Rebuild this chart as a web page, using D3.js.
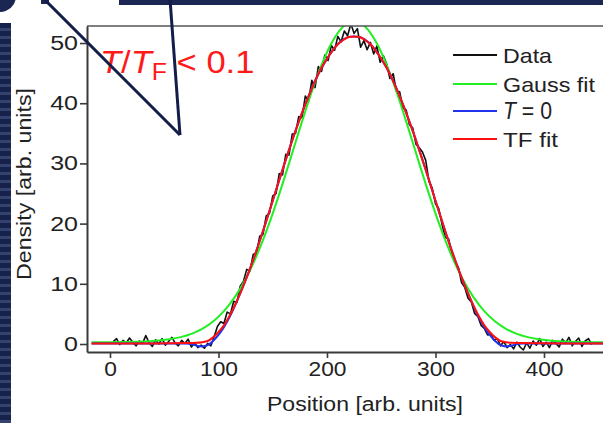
<!DOCTYPE html>
<html>
<head>
<meta charset="utf-8">
<script src="https://cdn.jsdelivr.net/npm/d3@7/dist/d3.min.js"></script>
<style>
  html, body { margin: 0; padding: 0; background: #fff; }
  svg { display: block; }
  text { font-family: "Liberation Sans", Arial, sans-serif; }
</style>
</head>
<body>
<svg id="chart" width="603" height="423"></svg>
<script>
// ---- data -------------------------------------------------------------
// measured density profile, sampled every 3 position units starting at 3
const dataStart = 3, dataStep = 3;
const densityData = [
  0.4, 0.9, -0.1, 0.6, 0.2, 1.0, 0.3, -0.3, 0.5, 0.1,
  1.4, 0.2, -0.4, 0.7, 0.0, 0.9, -0.2, 0.4, 1.1, 0.2,
  -0.3, 0.6, 0.1, 0.8, -0.5, 0.2, -0.6, -0.2, -0.7, 0.1,
  -0.3, 1.2, 2.9, 3.7, 3.4, 5.3, 5.0, 7.1, 6.9, 9.6,
  10.4, 12.4, 12.1, 14.9, 15.0, 17.9, 18.2, 21.3, 21.7, 24.6,
  25.0, 28.3, 28.1, 31.5, 31.4, 34.9, 35.0, 37.8, 37.6, 41.2,
  40.3, 43.8, 42.6, 46.1, 45.3, 48.0, 47.1, 49.6, 48.8, 51.1,
  50.2, 52.0, 51.2, 53.2, 51.6, 52.4, 49.3, 50.4, 48.9, 50.1,
  48.2, 49.5, 46.8, 47.9, 46.5, 44.1, 44.9, 42.0, 41.9, 39.2,
  38.9, 36.4, 35.9, 33.2, 32.6, 31.9, 30.5, 27.0, 25.9, 23.3,
  22.5, 19.9, 17.7, 17.5, 15.2, 13.4, 12.8, 10.2, 9.4, 7.6,
  7.0, 5.1, 4.6, 3.1, 2.6, 1.5, 1.6, 0.6, 0.9, -0.3,
  0.4, -0.6, -0.1, -0.8, 0.3, -0.5, -1.0, 0.2, -0.7, 0.5,
  -0.2, 0.9, -0.4, 0.3, -0.6, 0.6, 0.1, -0.5, 0.8, 0.2,
  1.1, -0.3, 0.4, 1.0, -0.4, 0.5, 0.9, -0.1
];

// Gaussian fit
const gaussX = [-17, 0, 25, 45, 55, 65, 75, 85, 95, 105, 115, 125, 135, 145, 155, 165, 175, 185, 195, 205, 215, 225,
                235, 245, 255, 265, 275, 285, 295, 305, 315, 325, 335, 345, 355, 365, 375, 385, 395, 405, 425, 455];
const gaussY = [0.3, 0.3, 0.38, 0.58, 0.79, 1.14, 1.68, 2.51, 3.73, 5.45, 7.78, 10.81, 14.61, 19.16, 24.36, 30.01, 35.82, 41.41, 46.36, 50.25, 52.74, 53.6,
                52.74, 50.25, 46.36, 41.41, 35.82, 30.01, 24.36, 19.16, 14.61, 10.81, 7.78, 5.45, 3.73, 2.51, 1.68, 1.14, 0.79, 0.58, 0.38, 0.3];

// Thomas-Fermi fit
const tfX = [-17, 0, 40, 70, 80, 85, 90, 95, 100, 105, 110, 115, 120, 125, 130, 135, 140, 145, 150, 155, 160, 165, 170, 175,
             180, 185, 190, 195, 200, 205, 210, 215, 220, 225, 230, 235, 240, 245, 250, 255, 260, 265, 270, 275, 280, 285,
             290, 295, 300, 305, 310, 315, 320, 325, 330, 335, 340, 345, 350, 355, 360, 365, 370, 380, 420, 455];
const tfY = [0.1, 0.1, 0.1, 0.15, 0.2, 0.3, 0.5, 1.1, 2.0, 3.1, 4.6, 6.4, 8.4, 10.6, 13.0, 15.5, 18.2, 21.0, 23.8, 26.7, 29.5, 32.2, 34.9, 37.4,
             39.8, 42.0, 44.1, 45.9, 47.4, 48.7, 49.8, 50.5, 51.0, 51.1, 51.0, 50.5, 49.8, 48.7, 47.4, 45.9, 44.1, 42.0, 39.8, 37.4, 34.9, 32.2,
             29.5, 26.7, 23.8, 21.0, 18.2, 15.5, 13.0, 10.6, 8.4, 6.4, 4.6, 3.1, 2.0, 1.1, 0.5, 0.3, 0.2, 0.15, 0.1, 0.1];

// zero-temperature profile
const t0X = [-17, 0, 40, 70, 75, 80, 85, 90, 95, 100, 105, 110, 115, 120, 125, 130, 140, 150, 160, 170, 180, 190, 200, 210, 220, 225,
             230, 240, 250, 260, 270, 280, 290, 300, 310, 320, 325, 330, 335, 340, 345, 350, 355, 360, 365, 370, 375, 380, 420, 455];
const t0Y = [0.1, 0.1, 0.1, 0.1, 0.0, -0.3, -0.4, -0.2, 0.5, 1.5, 2.8, 4.4, 6.3, 8.4, 10.6, 13.0, 18.2, 23.8, 29.5, 34.9, 39.8, 44.1, 47.4, 49.8, 51.0, 51.1,
             51.0, 49.8, 47.4, 44.1, 39.8, 34.9, 29.5, 23.8, 18.2, 13.0, 10.6, 8.4, 6.3, 4.4, 2.8, 1.5, 0.5, -0.2, -0.4, -0.3, 0.0, 0.1, 0.1, 0.1];

const xTicks = [0, 100, 200, 300, 400];
const yTicks = [0, 10, 20, 30, 40, 50];
const legendItems = ["Data", "Gauss fit", "T = 0", "TF fit"];
const seriesColors = ["#111111", "#22ee22", "#2233ee", "#ff1010"];

// ---- layout -----------------------------------------------------------
const svg = d3.select("#chart");
const frame = { left: 87, right: 603, top: 26, bottom: 352 };
const navy = "#1b2652";

const x = d3.scaleLinear().domain([-21.2, 454.4]).range([frame.left, frame.right]);
const y = d3.scaleLinear().domain([-1.33, 52.83]).range([frame.bottom, frame.top]);

// slide decoration around the figure
const defs = svg.append("defs");
const pat = defs.append("pattern").attr("id", "stripes")
  .attr("patternUnits", "userSpaceOnUse").attr("width", 12).attr("height", 8);
pat.append("rect").attr("width", 12).attr("height", 8).attr("fill", "#17224c");
pat.append("rect").attr("y", 4).attr("width", 12).attr("height", 3).attr("fill", "#34426f");

svg.append("rect").attr("x", 0).attr("y", 23).attr("width", 11).attr("height", 400).attr("fill", "url(#stripes)");
svg.append("circle").attr("cx", 0).attr("cy", -4).attr("r", 16).attr("fill", navy);
svg.append("rect").attr("x", 119).attr("y", 0).attr("width", 484).attr("height", 5).attr("fill", navy);
svg.append("rect").attr("x", 41).attr("y", 0).attr("width", 8).attr("height", 4).attr("fill", navy);

defs.append("clipPath").attr("id", "plotClip").append("rect")
  .attr("x", frame.left).attr("y", frame.top)
  .attr("width", frame.right - frame.left).attr("height", frame.bottom - frame.top);

// ---- series -----------------------------------------------------------
const plotG = svg.append("g").attr("clip-path", "url(#plotClip)");

const rawLine = d3.line().x(d => x(d[0])).y(d => y(d[1]));
const smoothLine = d3.line().x(d => x(d[0])).y(d => y(d[1])).curve(d3.curveMonotoneX);

const dataPts = densityData.map((v, i) => [dataStart + i * dataStep, v]);
plotG.append("path").datum(dataPts).attr("d", rawLine)
  .attr("fill", "none").attr("stroke", seriesColors[0]).attr("stroke-width", 1.6).attr("stroke-linejoin", "round");

const fits = [
  [gaussX, gaussY, seriesColors[1]],
  [t0X, t0Y, seriesColors[2]],
  [tfX, tfY, seriesColors[3]]
];
fits.forEach(([xs, ys, c]) => {
  plotG.append("path").datum(xs.map((v, i) => [v, ys[i]])).attr("d", smoothLine)
    .attr("fill", "none").attr("stroke", c).attr("stroke-width", 2);
});

// ---- axes -------------------------------------------------------------
const axisColor = "#3a3a3a";
const stretch = 1.14;

const xAxis = svg.append("g").attr("transform", `translate(0,${frame.bottom})`)
  .call(d3.axisBottom(x).tickValues(xTicks).tickSize(6).tickSizeOuter(0).tickPadding(4));
const yAxis = svg.append("g").attr("transform", `translate(${frame.left},0)`)
  .call(d3.axisLeft(y).tickValues(yTicks).tickSize(7).tickSizeOuter(0).tickPadding(2));

[xAxis, yAxis].forEach(g => {
  g.select(".domain").attr("stroke", axisColor).attr("stroke-width", 2);
  g.selectAll(".tick line").attr("stroke", axisColor).attr("stroke-width", 1.6);
  g.selectAll(".tick text").attr("font-size", 20).attr("fill", "#222")
    .attr("font-family", "'Liberation Sans', Arial, sans-serif");
});
xAxis.selectAll(".tick text").attr("transform", `scale(${stretch},1)`);
yAxis.selectAll(".tick text").each(function () {
  const t = d3.select(this);
  t.attr("x", +t.attr("x") / 1.25).attr("transform", "scale(1.25,1)");
});

// top border of the frame
svg.append("line").attr("x1", frame.left).attr("x2", frame.right)
  .attr("y1", frame.top).attr("y2", frame.top)
  .attr("stroke", "#555").attr("stroke-width", 1.6);

// axis titles
svg.append("text").attr("x", 365).attr("y", 411).attr("text-anchor", "middle")
  .attr("font-size", 20).attr("fill", "#222")
  .attr("textLength", 196).attr("lengthAdjust", "spacingAndGlyphs")
  .text("Position [arb. units]");

svg.append("text").attr("transform", "translate(31,184) rotate(-90)").attr("text-anchor", "middle")
  .attr("font-size", 21).attr("fill", "#222")
  .attr("textLength", 192).attr("lengthAdjust", "spacingAndGlyphs")
  .text("Density [arb. units]");

// ---- legend -----------------------------------------------------------
const legendRows = [55, 84, 111, 139];
const legendWidths = [49, 92, 49, 55];
legendItems.forEach((label, i) => {
  const ly = legendRows[i];
  svg.append("line").attr("x1", 453).attr("x2", 497).attr("y1", ly).attr("y2", ly)
    .attr("stroke", seriesColors[i]).attr("stroke-width", 2);
  const t = svg.append("text").attr("x", 503).attr("y", ly).attr("dy", "0.36em").attr("fill", "#222")
    .attr("textLength", legendWidths[i]).attr("lengthAdjust", "spacingAndGlyphs");
  if (label === "T = 0") {
    t.attr("font-family", "'Liberation Serif', 'Times New Roman', serif").attr("font-size", 23);
    t.append("tspan").attr("font-style", "italic").text("T");
    t.append("tspan").text(" = 0");
  } else {
    t.attr("font-size", 21).text(label);
  }
});

// ---- annotation -------------------------------------------------------
const note = svg.append("text").attr("x", 100 / 1.08).attr("y", 73)
  .attr("transform", "scale(1.08,1)").attr("font-size", 32).attr("fill", "#ff1a1a");
note.append("tspan").attr("font-style", "italic").text("T");
note.append("tspan").text("/");
note.append("tspan").attr("font-style", "italic").text("T");
note.append("tspan").attr("font-size", 23).attr("dy", 7).text("F");
note.append("tspan").attr("dy", -7).text(" < 0.1");

// callout lines drawn over the figure
svg.append("line").attr("x1", 44).attr("y1", -1).attr("x2", 180).attr("y2", 135)
  .attr("stroke", "#131d4a").attr("stroke-width", 3);
svg.append("line").attr("x1", 170).attr("y1", -1).attr("x2", 180).attr("y2", 135)
  .attr("stroke", "#131d4a").attr("stroke-width", 3);
</script>
</body>
</html>
